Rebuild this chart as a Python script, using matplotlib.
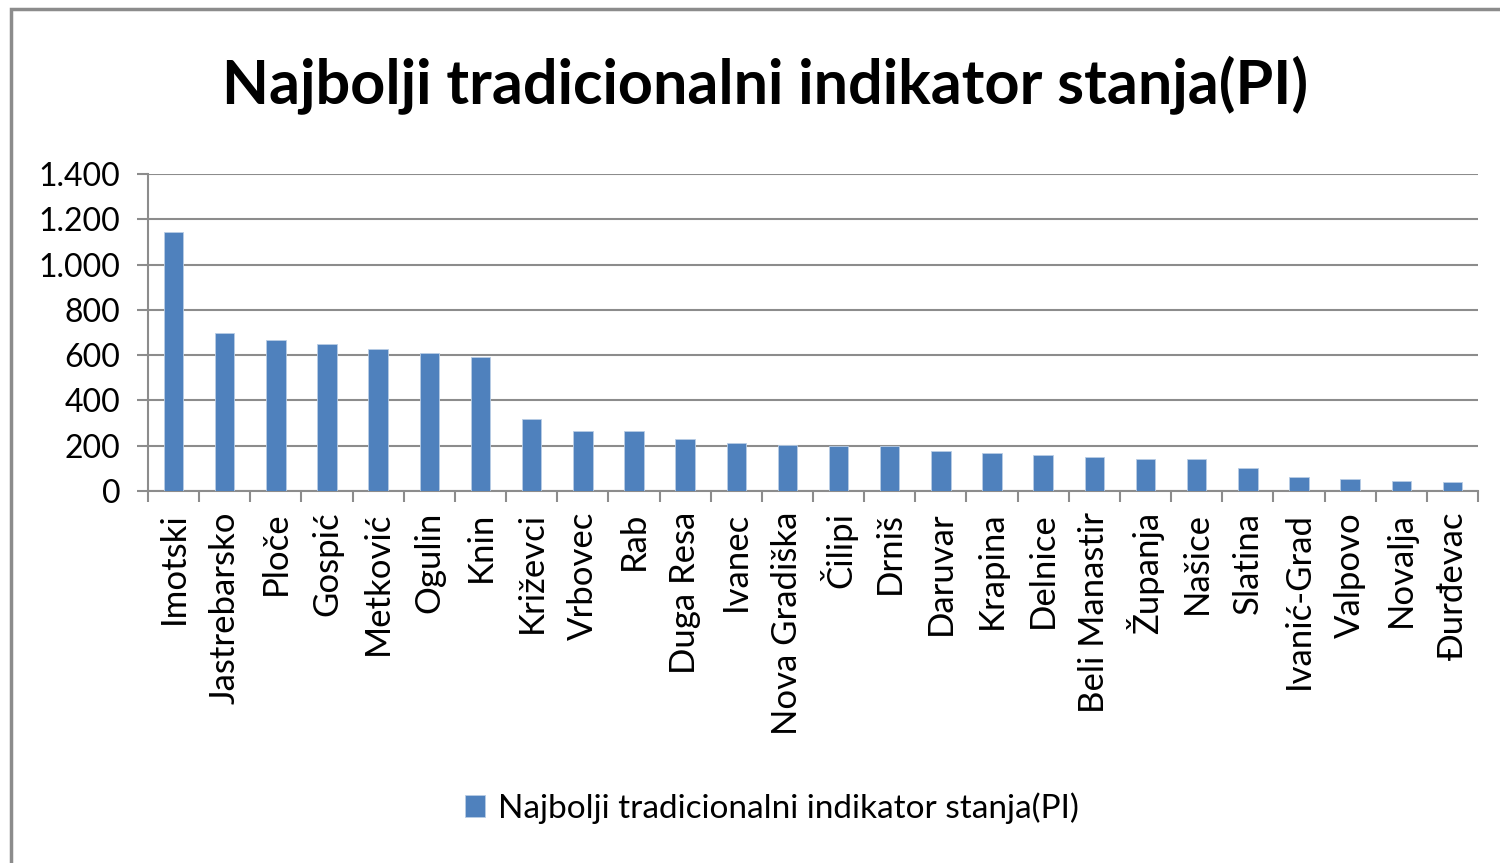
import matplotlib.pyplot as plt
from matplotlib.patches import Rectangle
from matplotlib.ticker import FuncFormatter

gradovi = ["Imotski", "Jastrebarsko", "Ploče", "Gospić", "Metković", "Ogulin", "Knin",
           "Križevci", "Vrbovec", "Rab", "Duga Resa", "Ivanec", "Nova Gradiška", "Čilipi",
           "Drniš", "Daruvar", "Krapina", "Delnice", "Beli Manastir", "Županja", "Našice",
           "Slatina", "Ivanić-Grad", "Valpovo", "Novalja", "Đurđevac"]
pi = [1145, 700, 667, 650, 625, 608, 593, 318, 265, 265, 229, 212, 203, 198,
      198, 177, 169, 160, 151, 141, 141, 100, 63, 55, 46, 38]
y_ticks = [0, 200, 400, 600, 800, 1000, 1200, 1400]
naslov = "Najbolji tradicionalni indikator stanja(PI)"

plt.rcParams["font.family"] = ["Lato", "DejaVu Sans"]

fig = plt.figure(figsize=(15, 8.63), dpi=100)
ax = fig.add_axes([148 / 1500, 1 - 491 / 863, (1478 - 148) / 1500, (491 - 174) / 863])

x = range(len(gradovi))
ax.bar(x, pi, width=0.38, color="#4F81BD", edgecolor="#B9CDE5", linewidth=0.6,
       zorder=3, label=naslov)

ax.set_xlim(-0.5, len(gradovi) - 0.5)
ax.set_ylim(0, 1400)
ax.set_yticks(y_ticks)
ax.yaxis.set_major_formatter(FuncFormatter(lambda v, p: f"{int(v):,}".replace(",", ".")))
ax.grid(axis="y", color="#8C8C8C", linewidth=1.5, zorder=0)

ax.set_xticks(list(x))
ax.set_xticklabels(gradovi, rotation=90, fontsize=25)
ax.tick_params(axis="x", length=0, pad=15)
ax.set_xticks([i - 0.5 for i in range(len(gradovi) + 1)], minor=True)
ax.tick_params(axis="x", which="minor", length=8, width=1.5, color="#8C8C8C")
ax.tick_params(axis="y", labelsize=23, length=8, width=1.5, color="#8C8C8C", pad=12)

for s in ["top", "right"]:
    ax.spines[s].set_visible(False)
for s in ["left", "bottom"]:
    ax.spines[s].set_color("#8C8C8C")
    ax.spines[s].set_linewidth(1.5)

fig.text(765 / 1500, 1 - 85 / 863, naslov, ha="center", va="center",
         fontsize=44, fontweight="bold")

leg = fig.legend(loc="center", bbox_to_anchor=(772 / 1500, 1 - 808 / 863), frameon=False,
                 fontsize=24, handlelength=0.6, handleheight=0.6, handletextpad=0.4)

fig.patches.append(Rectangle((11 / 1500, -0.05), 1.1, 1 - 9 / 863 + 0.05,
                             transform=fig.transFigure, fill=False,
                             edgecolor="#8C8C8C", linewidth=2.5))

fig.savefig("out.png", dpi=100)
